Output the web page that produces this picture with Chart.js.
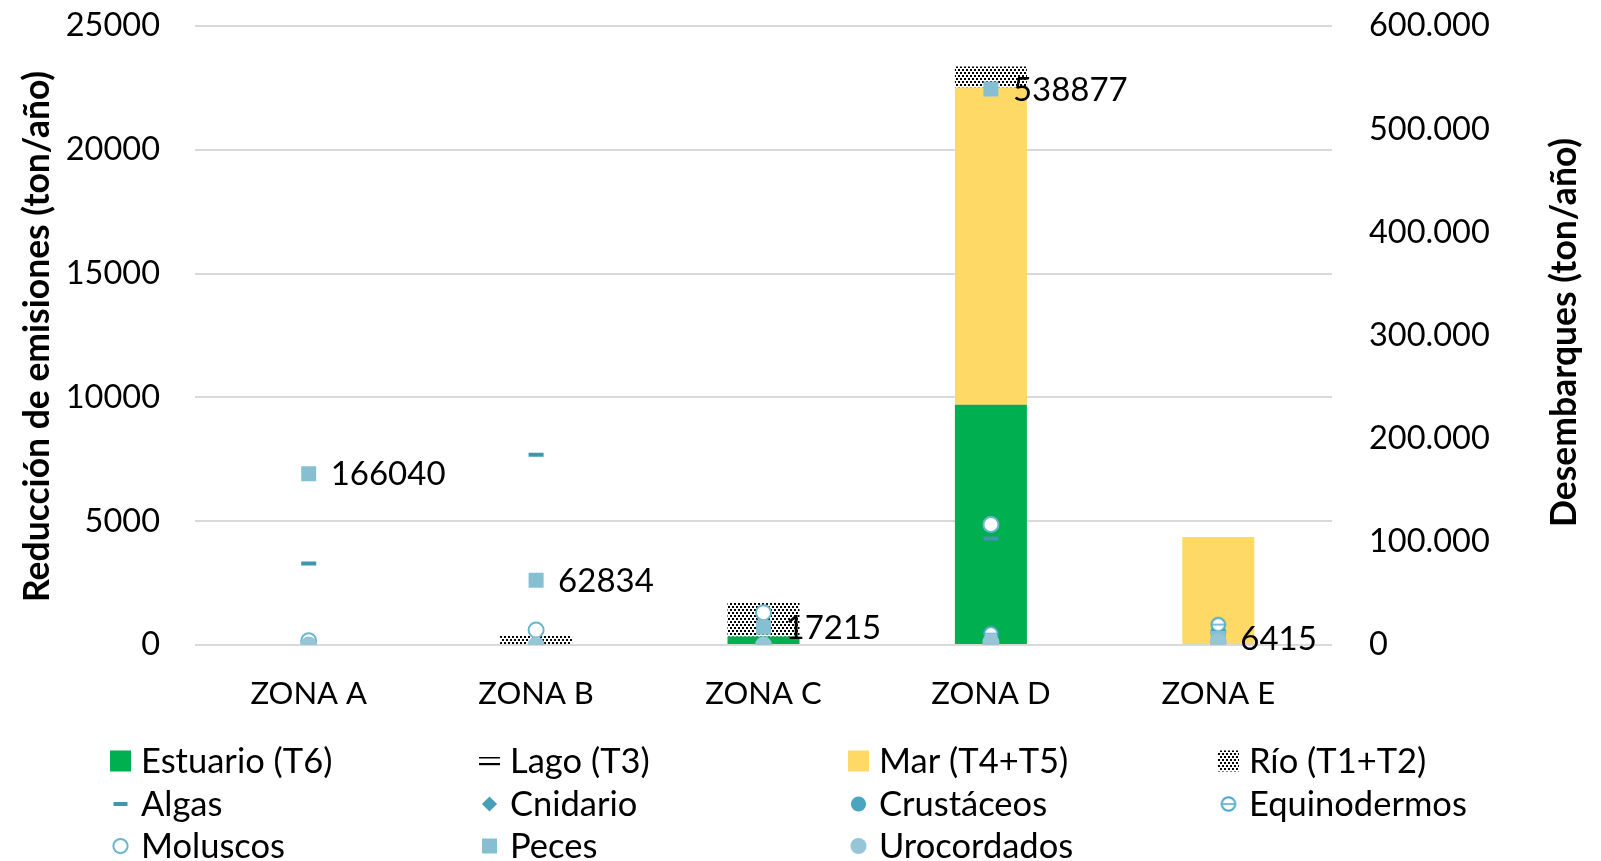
<!DOCTYPE html>
<html>
<head>
<meta charset="utf-8">
<script src="https://cdn.jsdelivr.net/npm/chart.js@4.4.1/dist/chart.umd.min.js"></script>
<style>
html,body{margin:0;padding:0;background:#fff;}
#c{display:block;}
</style>
</head>
<body>
<canvas id="c" width="1601" height="861"></canvas>
<script>
// ---------- DATA ----------
const categories = ['ZONA A', 'ZONA B', 'ZONA C', 'ZONA D', 'ZONA E'];
// Left axis: Reducción de emisiones (ton/año) — stacked bars
const estuario = [0, 0, 340, 9706, 0];
const lago     = [0, 0, 0, 0, 0];
const mar      = [0, 0, 0, 12810, 4360];
const rio      = [0, 380, 1380, 845, 45];
// Right axis: Desembarques (ton/año) — markers
const algas        = [79000, 184500, null, 103300, null];
const cnidario     = [null, null, null, 500, null];
const crustaceos   = [null, null, null, null, 12000];
const equinodermos = [null, null, null, 11000, 19800];
const moluscos     = [4000, 14500, 31300, 116800, null];
const peces        = [166040, 62834, 17215, 538877, 6415];
const urocordados  = [0, 0, 0, 3000, 3000];
const leftTicks  = {min: 0, max: 25000, step: 5000};
const rightTicks = {min: 0, max: 600000, step: 100000};
const leftTitle  = 'Reducción de emisiones (ton/año)';
const rightTitle = 'Desembarques (ton/año)';

// ---------- STYLE ----------
const FONT = 'Lato';
Chart.defaults.font.family = FONT;
Chart.defaults.color = '#000';

function makePattern(w, h, draw) {
  const c = document.createElement('canvas');
  c.width = w; c.height = h;
  const x = c.getContext('2d');
  x.fillStyle = '#fff'; x.fillRect(0, 0, w, h);
  x.fillStyle = '#000';
  draw(x);
  return document.getElementById('c').getContext('2d').createPattern(c, 'repeat');
}
const rioPattern = makePattern(4, 6, x => { x.fillRect(0, 0, 2, 2); x.fillRect(2, 3, 2, 2); });
const lagoPattern = makePattern(4, 5, x => { x.fillRect(0, 0, 4, 1.5); });

function equiImage(size, r) {
  const c = document.createElement('canvas');
  c.width = size; c.height = size;
  const m = size / 2;
  const x = c.getContext('2d');
  x.beginPath(); x.arc(m, m, r, 0, Math.PI * 2);
  x.fillStyle = '#fff'; x.fill();
  x.lineWidth = 2; x.strokeStyle = '#4aa8cc'; x.stroke();
  x.beginPath(); x.moveTo(m - r + 1, m); x.lineTo(m + r - 1, m);
  x.lineWidth = 1.5; x.stroke();
  return c;
}
const equiStyle = equiImage(18, 6.8);

function barDs(label, data, color) {
  return {type: 'bar', label, data, backgroundColor: color, borderWidth: 0,
          yAxisID: 'y', order: 100, barPercentage: 1, categoryPercentage: 0.3166};
}
function ptDs(label, data, o, ord) {
  return Object.assign({type: 'line', label, data, showLine: false, yAxisID: 'y1', order: ord,
          pointHoverRadius: o.pointRadius}, o);
}

const datasets = [
  barDs('Estuario (T6)', estuario, '#00b050'),
  barDs('Lago (T3)', lago, lagoPattern),
  barDs('Mar (T4+T5)', mar, '#ffd966'),
  barDs('Río (T1+T2)', rio, rioPattern),
  ptDs('Algas', algas, {pointStyle: 'line', pointRadius: 7.5, pointBorderWidth: 4,
       pointBorderColor: '#3f96ad', pointBackgroundColor: '#3f96ad'}, 30),
  ptDs('Cnidario', cnidario, {pointStyle: 'rectRot', pointRadius: 8, pointBorderWidth: 0,
       pointBorderColor: '#4a9fb8', pointBackgroundColor: '#4a9fb8'}, 29),
  ptDs('Crustáceos', crustaceos, {pointStyle: 'circle', pointRadius: 8, pointBorderWidth: 0,
       pointBorderColor: '#4ba5c0', pointBackgroundColor: '#4ba5c0'}, 28),
  ptDs('Equinodermos', equinodermos, {pointStyle: equiStyle, pointRadius: 8, pointBorderWidth: 0,
       pointBorderColor: '#4aa8cc', pointBackgroundColor: '#4aa8cc'}, 27),
  ptDs('Moluscos', moluscos, {pointStyle: 'circle', pointRadius: 7.5, pointBorderWidth: 2,
       pointBorderColor: '#6ab6cf', pointBackgroundColor: '#ffffff'}, 26),
  ptDs('Peces', peces, {pointStyle: 'rect', pointRadius: 10.6, pointBorderWidth: 0,
       pointBorderColor: '#86bfd1', pointBackgroundColor: '#86bfd1'}, 25),
  ptDs('Urocordados', urocordados, {pointStyle: 'circle', pointRadius: 8.5, pointBorderWidth: 0,
       pointBorderColor: '#96c5d7', pointBackgroundColor: '#96c5d7'}, 24),
];
const PECES_INDEX = 9;

const TICK_SIZE = 32.5;
const XTICK_SIZE = 31;
const LABEL_SIZE = 33;
const LEGEND_SIZE = 34.5;
const TITLE_SIZE = 35.5;

const overlay = {
  id: 'overlay',
  afterDatasetsDraw(chart) {
    const ctx = chart.ctx;
    const meta = chart.getDatasetMeta(PECES_INDEX);
    ctx.save();
    ctx.font = `${LABEL_SIZE}px ${FONT}`;
    ctx.fillStyle = '#000';
    ctx.textAlign = 'left';
    ctx.textBaseline = 'middle';
    meta.data.forEach((pt, i) => {
      if (peces[i] == null) return;
      ctx.fillText(String(peces[i]), pt.x + 22, pt.y + 1);
    });
    ctx.restore();
  },
  afterDraw(chart) {
    const ctx = chart.ctx;
    const ca = chart.chartArea;
    const cy = (ca.top + ca.bottom) / 2;
    ctx.save();
    ctx.fillStyle = '#000';
    ctx.font = `bold ${TITLE_SIZE}px ${FONT}`;
    ctx.textAlign = 'center';
    ctx.textBaseline = 'middle';
    ctx.save(); ctx.translate(38, cy + 1); ctx.rotate(-Math.PI / 2); ctx.fillText(leftTitle, 0, 0); ctx.restore();
    ctx.save(); ctx.translate(1565, cy - 3); ctx.rotate(-Math.PI / 2); ctx.fillText(rightTitle, 0, 0); ctx.restore();

    // legend grid
    const colX = [110, 479, 848, 1218];
    const rowY = [761, 804, 846];
    ctx.font = `${LEGEND_SIZE}px ${FONT}`;
    ctx.textAlign = 'left';
    chart.data.datasets.forEach((ds, i) => {
      const col = i % 4, row = Math.floor(i / 4);
      const x = colX[col], y = rowY[row];
      const sx = x + 10.5;
      if (ds.type === 'bar') {
        if (ds.label.startsWith('Lago')) {
          ctx.fillStyle = '#000';
          ctx.fillRect(x, y - 4, 21, 1.5);
          ctx.fillRect(x, y + 2, 21, 2.2);
        } else {
          ctx.fillStyle = ds.backgroundColor;
          ctx.fillRect(x, y - 10.5, 21, 21);
        }
      } else {
        const r = ds.pointRadius;
        ctx.fillStyle = ds.pointBackgroundColor;
        ctx.strokeStyle = ds.pointBorderColor;
        ctx.lineWidth = ds.pointBorderWidth;
        const rr = ds.pointStyle === 'rect' ? 10.6 : (ds.pointStyle === 'line' ? 7 : r * 0.95);
        Chart.helpers.drawPoint(ctx, {pointStyle: ds.pointStyle, radius: rr, rotation: 0,
                                      borderWidth: ds.pointBorderWidth}, sx, y);
      }
      ctx.fillStyle = '#000';
      ctx.textBaseline = 'middle';
      ctx.fillText(ds.label, x + 31, y + 1);
    });
    ctx.restore();
  }
};

const fmtRight = v => String(v).replace(/\B(?=(\d{3})+(?!\d))/g, '.');
function noPad(s) { s.paddingTop = 0; s.paddingBottom = 0; }

new Chart(document.getElementById('c'), {
  data: {labels: categories, datasets},
  options: {
    responsive: false,
    animation: false,
    devicePixelRatio: 1,
    events: [],
    layout: {padding: {left: 0, right: 0, top: 26, bottom: 141}},
    plugins: {legend: {display: false}, tooltip: {enabled: false}, title: {display: false}},
    scales: {
      x: {
        stacked: true,
        grid: {display: false, drawTicks: false},
        border: {display: false},
        ticks: {font: {size: XTICK_SIZE}, padding: 30, color: '#000'},
        afterFit(s) { s.height = 75; s.paddingLeft = 0; s.paddingRight = 0; }
      },
      y: {
        position: 'left',
        stacked: true,
        min: leftTicks.min, max: leftTicks.max,
        grid: {color: '#d9d9d9', lineWidth: 2, drawTicks: false},
        border: {display: false},
        ticks: {stepSize: leftTicks.step, font: {size: TICK_SIZE}, padding: 35, color: '#000',
                callback: v => String(v)},
        afterFit(s) { s.width = 195; noPad(s); }
      },
      y1: {
        position: 'right',
        min: rightTicks.min, max: rightTicks.max,
        grid: {display: false, drawTicks: false},
        border: {display: false},
        ticks: {stepSize: rightTicks.step, font: {size: TICK_SIZE}, padding: 37, color: '#000',
                callback: v => fmtRight(v)},
        afterFit(s) { s.width = 269; noPad(s); }
      }
    }
  },
  plugins: [overlay]
});
</script>
</body>
</html>
